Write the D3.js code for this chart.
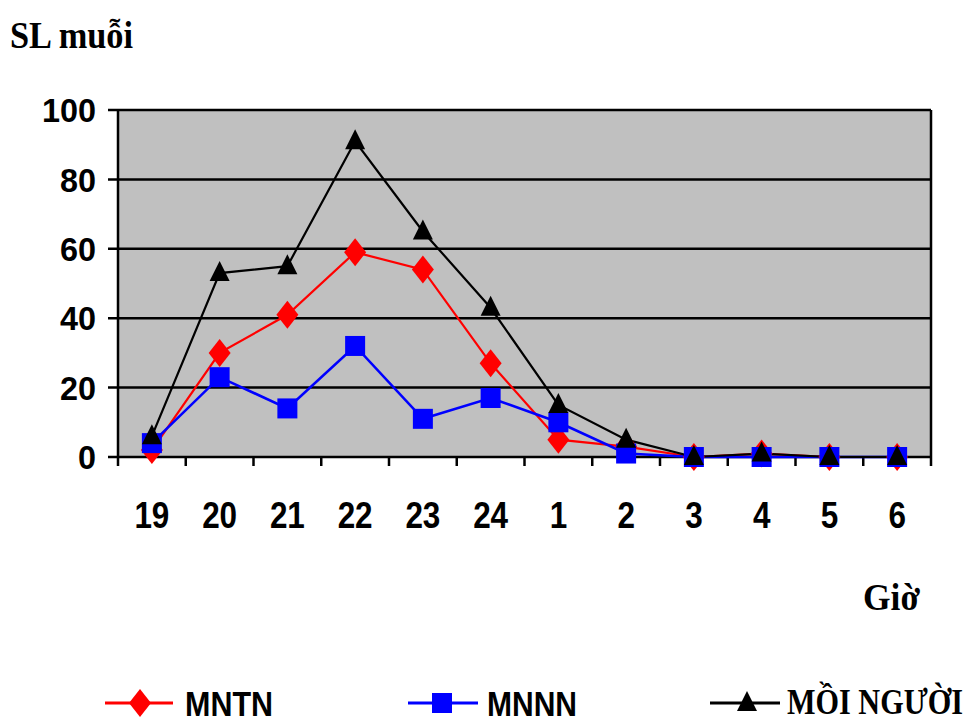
<!DOCTYPE html>
<html><head><meta charset="utf-8">
<script src="https://cdn.jsdelivr.net/npm/d3@7"></script>
<style>body{margin:0;background:#fff}</style>
</head><body>
<svg id="c" width="972" height="724"></svg>
<script>
const categories = ["19","20","21","22","23","24","1","2","3","4","5","6"];
const mntn = [2,30,41,59,54,27,5,3,0,1,0,0];
const mnnn = [4,23,14,32,11,17,10,1,0,0,0,0];
const moiNguoi = [6,53,55,91,65,43,15,5,0,1,0,0];
const yTicks = [0,20,40,60,80,100];
const seriesNames = ["MNTN","MNNN","MỒI NGƯỜI"];

const svg = d3.select("#c");
const L=118, R=931, T=110, B=457;
const x = d3.scaleBand().domain(categories).range([L,R]).padding(0);
const y = d3.scaleLinear().domain([0,100]).range([B,T]);
const SANS = "Liberation Sans, Arial, sans-serif";
const SERIF = "Liberation Serif, Times New Roman, serif";

svg.append("rect").attr("x",L).attr("y",T).attr("width",R-L).attr("height",B-T).attr("fill","#c0c0c0");

svg.append("g").selectAll("line").data(yTicks).join("line")
  .attr("x1",L-10).attr("x2",R).attr("y1",d=>y(d)).attr("y2",d=>y(d))
  .attr("stroke","#000").attr("stroke-width",2.5);
svg.append("line").attr("x1",L).attr("x2",L).attr("y1",T).attr("y2",B+9).attr("stroke","#000").attr("stroke-width",2.5);
svg.append("line").attr("x1",R).attr("x2",R).attr("y1",T).attr("y2",B+9).attr("stroke","#000").attr("stroke-width",2.5);
const bounds = categories.map(c=>x(c)).slice(1);
svg.append("g").selectAll("line").data(bounds).join("line")
  .attr("x1",d=>d).attr("x2",d=>d).attr("y1",B).attr("y2",B+9)
  .attr("stroke","#000").attr("stroke-width",2.5);

svg.append("g").selectAll("text").data(yTicks).join("text")
  .attr("x",96).attr("y",d=>y(d)).attr("dy","0.36em").attr("text-anchor","end")
  .attr("font-family",SANS).attr("font-weight","bold").attr("font-size",34)
  .attr("textLength",d=>String(d).length*18).attr("lengthAdjust","spacingAndGlyphs")
  .text(d=>d);
svg.append("g").selectAll("text").data(categories).join("text")
  .attr("x",d=>x(d)+x.bandwidth()/2).attr("y",528).attr("text-anchor","middle")
  .attr("font-family",SANS).attr("font-weight","bold").attr("font-size",37)
  .attr("textLength",d=>d.length*17.5).attr("lengthAdjust","spacingAndGlyphs")
  .text(d=>d);

svg.append("text").attr("x",10).attr("y",48).attr("font-family",SERIF)
  .attr("font-weight","bold").attr("font-size",38)
  .attr("textLength",123).attr("lengthAdjust","spacingAndGlyphs").text("SL muỗi");
svg.append("text").attr("x",863).attr("y",610).attr("font-family",SERIF)
  .attr("font-weight","bold").attr("font-size",37)
  .attr("textLength",57).attr("lengthAdjust","spacingAndGlyphs").text("Giờ");

const diamond = {draw(ctx,size){ctx.moveTo(0,-14);ctx.lineTo(11,0);ctx.lineTo(0,14);ctx.lineTo(-11,0);ctx.closePath();}};
const square = {draw(ctx,size){ctx.rect(-10,-10,20,20);}};
const tri = {draw(ctx,size){ctx.moveTo(0,-12);ctx.lineTo(10,8);ctx.lineTo(-10,8);ctx.closePath();}};

const line = d3.line().x((d,i)=>x(categories[i])+x.bandwidth()/2).y(d=>y(d));
const series = [
  {name:seriesNames[0], data:mntn, color:"#ff0000", sym:diamond, w:2.2},
  {name:seriesNames[1], data:mnnn, color:"#0000ff", sym:square, w:2.6},
  {name:seriesNames[2], data:moiNguoi, color:"#000000", sym:tri, w:2.2}
];
series.forEach(s=>{
  svg.append("path").attr("d",line(s.data)).attr("fill","none").attr("stroke",s.color).attr("stroke-width",s.w);
});
series.forEach(s=>{
  svg.append("g").selectAll("path").data(s.data).join("path")
    .attr("transform",(d,i)=>`translate(${x(categories[i])+x.bandwidth()/2},${y(d)})`)
    .attr("d",d3.symbol().type(s.sym)).attr("fill",s.color);
});

const leg = [
  {x1:105,x2:173,mx:140,tx:185,tw:88,serif:false},
  {x1:408,x2:478,mx:442,tx:487,tw:90,serif:false},
  {x1:710,x2:780,mx:747,tx:787,tw:176,serif:true}
];
series.forEach((s,i)=>{
  const g = leg[i];
  svg.append("line").attr("x1",g.x1).attr("x2",g.x2).attr("y1",703).attr("y2",703).attr("stroke",s.color).attr("stroke-width",3);
  svg.append("path").attr("transform",`translate(${g.mx},703)`).attr("d",d3.symbol().type(s.sym)).attr("fill",s.color);
  if (g.serif) {
    svg.append("text").attr("x",0).attr("y",0)
      .attr("transform",`translate(${g.tx},714) scale(1,1.25)`)
      .attr("font-family",SERIF).attr("font-weight","bold").attr("font-size",29)
      .attr("textLength",g.tw).attr("lengthAdjust","spacingAndGlyphs")
      .text(s.name);
  } else {
    svg.append("text").attr("x",g.tx).attr("y",716)
      .attr("font-family",SANS).attr("font-weight","bold").attr("font-size",35)
      .attr("textLength",g.tw).attr("lengthAdjust","spacingAndGlyphs")
      .text(s.name);
  }
});
</script>
</body></html>
